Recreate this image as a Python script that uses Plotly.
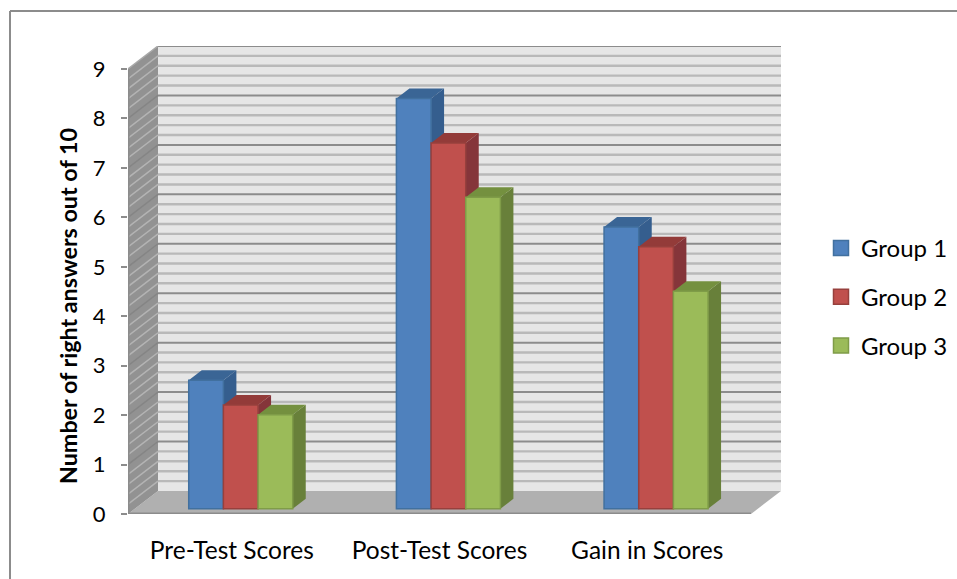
import plotly.graph_objects as go

categories = ["Pre-Test Scores", "Post-Test Scores", "Gain in Scores"]
group_names = ["Group 1", "Group 2", "Group 3"]
group_1 = [2.6, 8.3, 5.7]
group_2 = [2.1, 7.4, 5.3]
group_3 = [1.9, 6.3, 4.4]
y_ticks = list(range(10))
y_title = "Number of right answers out of 10"

series = [group_1, group_2, group_3]
front = ["#4f81bd", "#c0504d", "#9bbb59"]
edge = ["#41709f", "#97403d", "#7f9c48"]
side = ["#355e8e", "#85353a", "#68803a"]
top = ["#3a6595", "#933b39", "#74903f"]

W, H = 957, 579
L, R, T, B = 128, 781, 46, 514
UX = (751 - 128) / 3.0          # px per category
UY = 49.37                      # px per value unit
FONT = "Lato, Carlito, sans-serif"

wall_dx, wall_dy = 30 / UX, 23 / UY
bar_w = 34.67 / UX
bar_dx, bar_dy = 13 / UX, 10 / UY
base_val = 5.2 / UY
shift = 8.9 / UX
x0 = -0.5
x_end = 2.5

shapes = []


def poly(pts, fill, line=None, lw=0):
    path = "M " + " L ".join(f"{x},{y}" for x, y in pts) + " Z"
    shapes.append(dict(type="path", path=path, xref="x", yref="y", layer="below",
                       fillcolor=fill, line=dict(color=line or fill, width=lw)))


def seg(a, b, color, lw):
    shapes.append(dict(type="line", xref="x", yref="y", layer="below",
                       x0=a[0], y0=a[1], x1=b[0], y1=b[1],
                       line=dict(color=color, width=lw)))


# back wall, floor, side wall
bl = x0 + wall_dx
br = x_end + wall_dx
poly([(bl, wall_dy), (br, wall_dy), (br, 9 + wall_dy), (bl, 9 + wall_dy)], "#e6e6e6")
poly([(x0, 0), (x_end, 0), (br, wall_dy), (bl, wall_dy)], "#b0b0b0")
poly([(x0, 0), (bl, wall_dy), (bl, 9 + wall_dy), (x0, 9)], "#929292")

# grid lines
for k in range(0, 46):
    v = k / 5
    major = k % 5 == 0
    if k > 0:
        seg((bl, v + wall_dy), (br, v + wall_dy),
            "#8c8c8c" if major else "#b9b9b9", 2 if major else 2.4)
    if 0 < k < 45:
        seg((x0, v), (bl, v + wall_dy), "#858585" if major else "#b4b4b4", 1.5)
seg((x0, 0), (x_end, 0), "#8c8c8c", 3)
seg((x0, 0), (x0, 9), "#8c8c8c", 3)
seg((x0, 9), (bl, 9 + wall_dy), "#a8a8a8", 1.5)

fig = go.Figure()

# 3D faces of each bar, derived from the values; bars are painted on top
for g, vals in enumerate(series):
    for c, v in enumerate(vals):
        xl = c + shift + (g - 1.5) * bar_w
        xr = xl + bar_w
        yt = base_val + v
        poly([(xr, base_val), (xr, yt), (xr + bar_dx, yt + bar_dy), (xr + bar_dx, base_val + bar_dy)], side[g])
        poly([(xl, yt), (xr, yt), (xr + bar_dx, yt + bar_dy), (xl + bar_dx, yt + bar_dy)], top[g])

for g, vals in enumerate(series):
    fig.add_trace(go.Bar(
        x=[c + shift + (g - 1) * bar_w for c in range(len(categories))],
        y=vals, base=base_val, width=bar_w, name=group_names[g],
        marker=dict(color=front[g], line=dict(color=edge[g], width=1.5)),
        showlegend=False, hoverinfo="name+y"))
    fig.add_trace(go.Scatter(
        x=[None], y=[None], mode="markers", name=group_names[g], legendgroup=group_names[g],
        marker=dict(symbol="square", size=15, color=front[g], line=dict(color=edge[g], width=1.5))))

# chart frame: only the top and left edges fall inside the picture
frame_x = (10 - L) / (R - L)
frame_y = (B - 11) / (B - T)
fig.add_shape(type="line", xref="paper", yref="paper", layer="below",
              x0=frame_x, x1=(W - L) / (R - L), y0=frame_y, y1=frame_y,
              line=dict(color="#8c8c8c", width=2))
fig.add_shape(type="line", xref="paper", yref="paper", layer="below",
              x0=frame_x, x1=frame_x, y0=frame_y, y1=(B - H) / (B - T),
              line=dict(color="#8c8c8c", width=2))
for s in shapes:
    fig.add_shape(**s)

fig.add_annotation(text=f"<b>{y_title}</b>", textangle=-90, showarrow=False,
                   xref="paper", yref="paper", xanchor="center", yanchor="middle",
                   x=(68 - L) / (R - L), y=(B - 306) / (B - T),
                   font=dict(family=FONT, size=23.3, color="#000000"))

fig.update_layout(
    width=W, height=H, autosize=False,
    margin=dict(l=L, r=W - R, t=T, b=H - B, pad=0),
    paper_bgcolor="#ffffff", plot_bgcolor="rgba(0,0,0,0)",
    barmode="overlay", font=dict(family=FONT, size=24, color="#000000"),
    legend=dict(xref="container", yref="container", x=821 / W, xanchor="left",
                y=1 - 226 / H, yanchor="top",
                tracegroupgap=14.5, traceorder="grouped", itemwidth=30,
                entrywidth=90, entrywidthmode="pixels",
                bgcolor="rgba(0,0,0,0)", font=dict(family=FONT, size=24)),
    xaxis=dict(range=[x0, br], tickmode="array", tickvals=list(range(len(categories))),
               ticktext=categories, showgrid=False, zeroline=False, showline=False,
               ticks="", ticklabelstandoff=19, tickfont=dict(family=FONT, size=24.5)),
    yaxis=dict(range=[0, 9 + wall_dy], tickmode="array", tickvals=y_ticks, showgrid=False,
               zeroline=False, showline=False, ticks="outside", ticklen=6, tickwidth=2,
               tickcolor="#8c8c8c", ticklabelstandoff=11, tickfont=dict(family=FONT, size=22)),
)

fig.write_html("out.html", config={"displayModeBar": False},
               post_script="document.body.style.margin='0';")
